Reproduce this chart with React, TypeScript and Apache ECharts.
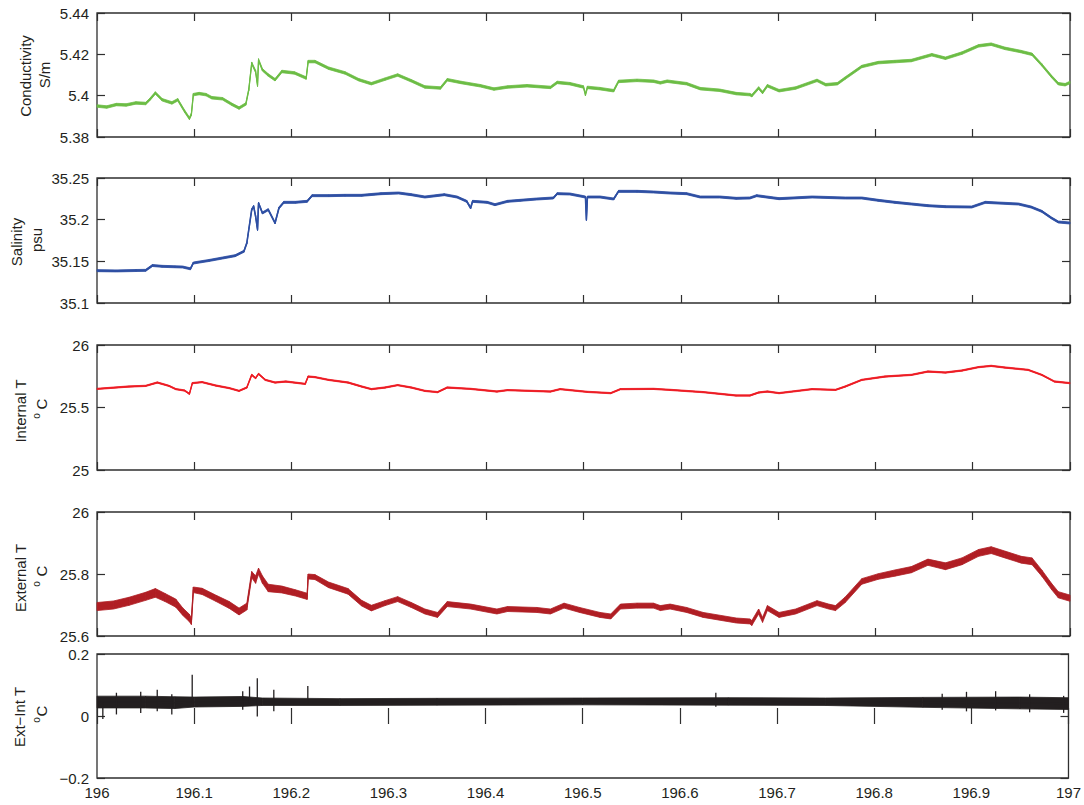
import React, { useEffect, useRef } from 'react';
import * as echarts from 'echarts';

// ---------- Conductivity (S/m) ----------
const COND_T = [
  196.000, 196.010, 196.020, 196.030, 196.040, 196.050, 196.054, 196.060, 196.067, 196.077,
  196.083, 196.090, 196.095, 196.097, 196.099, 196.105, 196.112, 196.118, 196.129, 196.139,
  196.146, 196.153, 196.156, 196.159, 196.163, 196.165, 196.166, 196.170, 196.176, 196.183,
  196.190, 196.203, 196.215, 196.217, 196.224, 196.238, 196.255, 196.269, 196.282, 196.296,
  196.309, 196.323, 196.337, 196.353, 196.360, 196.374, 196.394, 196.408, 196.422, 196.442,
  196.466, 196.473, 196.486, 196.500, 196.502, 196.504, 196.517, 196.531, 196.536, 196.555,
  196.572, 196.579, 196.586, 196.606, 196.620, 196.640, 196.657, 196.671, 196.673, 196.680,
  196.684, 196.689, 196.701, 196.718, 196.740, 196.749, 196.761, 196.769, 196.786, 196.803,
  196.820, 196.837, 196.858, 196.872, 196.889, 196.906, 196.919, 196.933, 196.950, 196.961,
  196.971, 196.981, 196.988, 196.995, 197.000,
];
const COND_V = [
  5.3950, 5.3945, 5.3957, 5.3955, 5.3965, 5.3962, 5.3980, 5.4013, 5.3980, 5.3965,
  5.3980, 5.3925, 5.3890, 5.3910, 5.4005, 5.4010, 5.4005, 5.3990, 5.3985, 5.3957,
  5.3940, 5.3960, 5.4029, 5.4157, 5.4117, 5.4050, 5.4173, 5.4125, 5.4100, 5.4077,
  5.4117, 5.4110, 5.4085, 5.4165, 5.4165, 5.4133, 5.4110, 5.4077, 5.4058, 5.4080,
  5.4100, 5.4072, 5.4042, 5.4037, 5.4077, 5.4064, 5.4048, 5.4032, 5.4042, 5.4048,
  5.4040, 5.4064, 5.4058, 5.4042, 5.4005, 5.4040, 5.4034, 5.4024, 5.4069, 5.4074,
  5.4070, 5.4062, 5.4070, 5.4058, 5.4034, 5.4026, 5.4010, 5.4005, 5.4000, 5.4037,
  5.4015, 5.4048, 5.4024, 5.4037, 5.4074, 5.4053, 5.4058, 5.4085, 5.4141, 5.4160,
  5.4165, 5.4170, 5.4198, 5.4181, 5.4206, 5.4241, 5.4249, 5.4229, 5.4213, 5.4200,
  5.4149, 5.4093, 5.4058, 5.4053, 5.4064,
];
const COND_NOISE = 0.0006;

// ---------- Salinity (psu) ----------
const SAL_T = [
  196.000, 196.020, 196.040, 196.050, 196.057, 196.067, 196.080, 196.088, 196.096, 196.099,
  196.115, 196.129, 196.142, 196.151, 196.154, 196.159, 196.161, 196.163, 196.165, 196.166,
  196.170, 196.176, 196.183, 196.187, 196.192, 196.204, 196.216, 196.221, 196.238, 196.255,
  196.272, 196.292, 196.310, 196.323, 196.337, 196.357, 196.370, 196.380, 196.384, 196.386,
  196.401, 196.409, 196.422, 196.435, 196.452, 196.469, 196.473, 196.486, 196.502, 196.503,
  196.504, 196.517, 196.531, 196.536, 196.555, 196.572, 196.589, 196.606, 196.620, 196.640,
  196.657, 196.671, 196.678, 196.701, 196.735, 196.769, 196.786, 196.803, 196.820, 196.837,
  196.854, 196.872, 196.899, 196.913, 196.926, 196.947, 196.960, 196.971, 196.981, 196.988,
  197.000,
];
const SAL_V = [
  35.1388, 35.1385, 35.1390, 35.1392, 35.1450, 35.1440, 35.1435, 35.1432, 35.1410, 35.1480,
  35.1510, 35.1540, 35.1568, 35.1620, 35.1720, 35.2120, 35.2160, 35.2040, 35.1880, 35.2200,
  35.2080, 35.2120, 35.1960, 35.2140, 35.2208, 35.2208, 35.2220, 35.2288, 35.2288, 35.2292,
  35.2292, 35.2312, 35.2320, 35.2300, 35.2272, 35.2300, 35.2272, 35.2220, 35.2140, 35.2220,
  35.2208, 35.2180, 35.2220, 35.2232, 35.2248, 35.2260, 35.2312, 35.2308, 35.2272, 35.2000,
  35.2272, 35.2272, 35.2248, 35.2340, 35.2340, 35.2332, 35.2320, 35.2312, 35.2272, 35.2272,
  35.2256, 35.2260, 35.2288, 35.2252, 35.2272, 35.2260, 35.2260, 35.2232, 35.2208, 35.2188,
  35.2168, 35.2156, 35.2152, 35.2208, 35.2200, 35.2188, 35.2152, 35.2100, 35.2020, 35.1972,
  35.1960,
];
const SAL_NOISE = 0.0012;

// ---------- Internal T (°C) ----------
const INT_T = [
  196.000, 196.033, 196.050, 196.062, 196.074, 196.081, 196.090, 196.095, 196.098, 196.108,
  196.122, 196.136, 196.146, 196.154, 196.159, 196.163, 196.166, 196.173, 196.183, 196.194,
  196.214, 196.217, 196.224, 196.238, 196.258, 196.272, 196.282, 196.296, 196.309, 196.323,
  196.337, 196.350, 196.360, 196.384, 196.411, 196.422, 196.466, 196.476, 196.504, 196.528,
  196.538, 196.572, 196.589, 196.623, 196.657, 196.671, 196.680, 196.689, 196.701, 196.735,
  196.759, 196.769, 196.786, 196.810, 196.837, 196.854, 196.872, 196.889, 196.906, 196.919,
  196.933, 196.957, 196.971, 196.984, 197.000,
];
const INT_V = [
  25.649, 25.668, 25.673, 25.700, 25.673, 25.647, 25.636, 25.609, 25.695, 25.703,
  25.676, 25.655, 25.633, 25.660, 25.761, 25.735, 25.769, 25.721, 25.700, 25.708,
  25.689, 25.748, 25.743, 25.721, 25.700, 25.668, 25.647, 25.660, 25.679, 25.660,
  25.633, 25.623, 25.660, 25.649, 25.628, 25.639, 25.628, 25.647, 25.625, 25.615,
  25.647, 25.649, 25.641, 25.623, 25.596, 25.596, 25.620, 25.628, 25.615, 25.647,
  25.641, 25.668, 25.721, 25.748, 25.761, 25.788, 25.780, 25.796, 25.823, 25.833,
  25.820, 25.801, 25.761, 25.708, 25.695,
];
const INT_NOISE = 0.005;

// ---------- External T (°C): centre and noise half-width ----------
const EXT_T = [
  196.000, 196.017, 196.033, 196.050, 196.060, 196.070, 196.081, 196.088, 196.095, 196.097,
  196.099, 196.108, 196.122, 196.136, 196.146, 196.154, 196.159, 196.163, 196.166, 196.170,
  196.176, 196.190, 196.204, 196.216, 196.217, 196.224, 196.238, 196.258, 196.272, 196.282,
  196.296, 196.309, 196.323, 196.337, 196.350, 196.360, 196.384, 196.411, 196.422, 196.452,
  196.466, 196.480, 196.496, 196.517, 196.528, 196.538, 196.555, 196.572, 196.579, 196.589,
  196.606, 196.623, 196.657, 196.671, 196.673, 196.680, 196.684, 196.689, 196.701, 196.718,
  196.740, 196.752, 196.759, 196.769, 196.786, 196.803, 196.820, 196.837, 196.854, 196.872,
  196.889, 196.906, 196.919, 196.933, 196.950, 196.961, 196.971, 196.981, 196.988, 197.000,
];
const EXT_V = [
  25.695, 25.700, 25.712, 25.728, 25.739, 25.724, 25.706, 25.679, 25.658, 25.647,
  25.749, 25.744, 25.722, 25.700, 25.679, 25.695, 25.798, 25.782, 25.809, 25.782,
  25.755, 25.750, 25.739, 25.728, 25.792, 25.790, 25.765, 25.744, 25.706, 25.690,
  25.706, 25.719, 25.700, 25.679, 25.668, 25.703, 25.695, 25.679, 25.687, 25.684,
  25.679, 25.698, 25.684, 25.668, 25.663, 25.695, 25.698, 25.698, 25.690, 25.695,
  25.684, 25.668, 25.650, 25.647, 25.642, 25.679, 25.652, 25.690, 25.668, 25.679,
  25.706, 25.695, 25.690, 25.717, 25.776, 25.792, 25.803, 25.814, 25.838, 25.825,
  25.841, 25.868, 25.877, 25.863, 25.846, 25.841, 25.803, 25.760, 25.733, 25.722,
];
const EXT_HW = [
  0.013, 0.013, 0.013, 0.013, 0.014, 0.013, 0.013, 0.012, 0.012, 0.010,
  0.009, 0.010, 0.010, 0.011, 0.011, 0.011, 0.010, 0.012, 0.010, 0.012,
  0.012, 0.011, 0.010, 0.010, 0.008, 0.008, 0.009, 0.009, 0.009, 0.009,
  0.008, 0.008, 0.008, 0.008, 0.008, 0.008, 0.008, 0.008, 0.008, 0.008,
  0.008, 0.008, 0.008, 0.008, 0.008, 0.008, 0.008, 0.008, 0.008, 0.008,
  0.008, 0.008, 0.008, 0.008, 0.008, 0.008, 0.008, 0.008, 0.008, 0.008,
  0.008, 0.008, 0.008, 0.009, 0.009, 0.009, 0.010, 0.010, 0.010, 0.011,
  0.011, 0.011, 0.011, 0.011, 0.011, 0.011, 0.010, 0.010, 0.010, 0.010,
];

// ---------- Ext - Int T (°C): centre, noise half-width, spikes ----------
const EI_T = [196.000, 196.050, 196.080, 196.100, 196.150, 196.170, 196.250, 196.350, 196.500, 196.650, 196.750, 196.850, 196.950, 197.000];
const EI_V = [0.045, 0.045, 0.043, 0.045, 0.047, 0.046, 0.045, 0.046, 0.047, 0.047, 0.046, 0.044, 0.042, 0.040];
const EI_HW = [0.019, 0.019, 0.019, 0.016, 0.016, 0.012, 0.011, 0.011, 0.011, 0.012, 0.012, 0.016, 0.019, 0.019];
const EI_SPIKE_T = [196.006, 196.020, 196.045, 196.062, 196.077, 196.098, 196.150, 196.157, 196.165, 196.182, 196.217, 196.637, 196.870, 196.895, 196.925, 196.960, 196.995];
const EI_SPIKE_LO = [-0.010, 0.005, 0.010, 0.015, 0.005, 0.040, 0.020, 0.040, -0.002, 0.015, 0.040, 0.030, 0.020, 0.015, 0.018, 0.012, 0.010];
const EI_SPIKE_HI = [0.045, 0.075, 0.078, 0.085, 0.070, 0.133, 0.080, 0.095, 0.122, 0.085, 0.097, 0.075, 0.072, 0.078, 0.080, 0.070, 0.065];

// ---------- Axes ----------
const X_MIN = 196;
const X_MAX = 197;
const X_STEP = 0.1;
const Y_RANGES = [
  { min: 5.38, max: 5.44, interval: 0.02 },
  { min: 35.1, max: 35.25, interval: 0.05 },
  { min: 25, max: 26, interval: 0.5 },
  { min: 25.6, max: 26, interval: 0.2 },
  { min: -0.2, max: 0.2, interval: 0.2 },
];

const COLORS = ['#6cbd45', '#2e4fa3', '#ed1c24', '#b01e24', '#231f20'];
const FONT = "'Liberation Sans', Arial, Helvetica, sans-serif";
const INK = '#231f20';
const AXIS = '#2f2f2f';

const TOPS = [13, 178, 345, 512, 654];
const HEIGHTS = [124, 125, 125, 124, 124];
const LEFT = 97;
const RIGHT = 14;

function pairs(t: number[], v: number[]) {
  return t.map((x, i) => [x, v[i]]);
}

function buildOption() {
  const tickStyle = { inside: true, length: 8, lineStyle: { color: AXIS, width: 1.2 } };
  const grid = TOPS.map((top, i) => ({
    left: LEFT,
    right: RIGHT,
    top,
    height: HEIGHTS[i],
    show: true,
    borderColor: AXIS,
    borderWidth: 1.3,
    backgroundColor: 'transparent',
  }));

  const xAxis: any[] = [];
  const yAxis: any[] = [];
  TOPS.forEach((_, i) => {
    const baseX = {
      type: 'value',
      gridIndex: i,
      min: X_MIN,
      max: X_MAX,
      interval: X_STEP,
      axisLine: { show: false },
      axisTick: tickStyle,
      splitLine: { show: false },
    };
    xAxis.push({
      ...baseX,
      position: 'bottom',
      axisLabel: {
        show: i === 4,
        fontSize: 15,
        fontFamily: FONT,
        color: INK,
        margin: 7,
        showMinLabel: true,
        showMaxLabel: true,
      },
    });
    xAxis.push({ ...baseX, position: 'top', axisLabel: { show: false } });

    const r = Y_RANGES[i];
    const baseY = {
      type: 'value',
      gridIndex: i,
      min: r.min,
      max: r.max,
      interval: r.interval,
      axisLine: { show: false },
      axisTick: tickStyle,
      splitLine: { show: false },
    };
    yAxis.push({
      ...baseY,
      position: 'left',
      axisLabel: {
        fontSize: 15,
        fontFamily: FONT,
        color: INK,
        margin: 8,
        showMinLabel: true,
        showMaxLabel: true,
        formatter: (v: number) => {
          const s = String(Math.round(v * 10000) / 10000);
          return s.startsWith('-') ? '\u2212' + s.slice(1) : s;
        },
      },
    });
    yAxis.push({ ...baseY, position: 'right', axisLabel: { show: false } });
  });

  const line = (idx: number, data: any[], color: string, width: number) => ({
    type: 'line',
    xAxisIndex: idx * 2,
    yAxisIndex: idx * 2,
    data,
    symbol: 'none',
    showSymbol: false,
    lineStyle: { color, width },
    silent: true,
    z: 3,
  });

  // noise envelope: quads between consecutive samples, placed with the axis scales
  const band = (idx: number, t: number[], lo: number[], hi: number[], color: string) => ({
    type: 'custom',
    xAxisIndex: idx * 2,
    yAxisIndex: idx * 2,
    silent: true,
    z: 2,
    data: t.map((x, i) => [x, lo[i], hi[i]]),
    encode: { x: 0, y: [1, 2] },
    renderItem: (params: any, api: any) => {
      const i = params.dataIndexInside;
      if (i === 0) return null;
      const a1 = api.coord([api.value(0, i - 1), api.value(1, i - 1)]);
      const a2 = api.coord([api.value(0, i - 1), api.value(2, i - 1)]);
      const b1 = api.coord([api.value(0, i), api.value(1, i)]);
      const b2 = api.coord([api.value(0, i), api.value(2, i)]);
      return {
        type: 'polygon',
        shape: { points: [a1, b1, b2, a2] },
        style: { fill: color, stroke: color, lineWidth: 0.8 },
      };
    },
  });

  const withNoise = (idx: number, t: number[], v: number[], hw: (i: number) => number, color: string, w: number) => [
    band(idx, t, v.map((y, i) => y - hw(i)), v.map((y, i) => y + hw(i)), color),
    line(idx, pairs(t, v), color, w),
  ];

  const series: any[] = [
    ...withNoise(0, COND_T, COND_V, () => COND_NOISE, COLORS[0], 1.2),
    ...withNoise(1, SAL_T, SAL_V, () => SAL_NOISE, COLORS[1], 1.6),
    ...withNoise(2, INT_T, INT_V, () => INT_NOISE, COLORS[2], 1.4),
    ...withNoise(3, EXT_T, EXT_V, (i) => EXT_HW[i], COLORS[3], 1.2),
    ...withNoise(4, EI_T, EI_V, (i) => EI_HW[i], COLORS[4], 1.2),
    {
      type: 'custom',
      xAxisIndex: 8,
      yAxisIndex: 8,
      silent: true,
      z: 4,
      data: EI_SPIKE_T.map((t, i) => [t, EI_SPIKE_LO[i], EI_SPIKE_HI[i]]),
      encode: { x: 0, y: [1, 2] },
      renderItem: (_p: any, api: any) => {
        const a = api.coord([api.value(0), api.value(1)]);
        const b = api.coord([api.value(0), api.value(2)]);
        return {
          type: 'line',
          shape: { x1: a[0], y1: a[1], x2: b[0], y2: b[1] },
          style: { stroke: COLORS[4], lineWidth: 1.3 },
        };
      },
    },
  ];

  const txt = (text: string, x: number, y: number, size = 15) => ({
    type: 'text',
    x,
    y,
    rotation: Math.PI / 2,
    silent: true,
    style: {
      text,
      fontSize: size,
      fontFamily: FONT,
      fill: INK,
      align: 'center',
      verticalAlign: 'middle',
    },
  });

  const graphic = [
    txt('Conductivity', 25, 76),
    txt('S/m', 44, 75),
    txt('Salinity', 16, 242),
    txt('psu', 36, 240),
    txt('Internal T', 20, 411),
    txt('o', 36, 416, 10),
    txt('C', 41, 404),
    txt('External T', 20, 578),
    txt('o', 36, 584, 10),
    txt('C', 41, 571),
    txt('Ext\u2212Int T', 19, 717),
    txt('o', 36, 720, 10),
    txt('C', 41, 711),
  ];

  return {
    animation: false,
    backgroundColor: '#ffffff',
    grid,
    xAxis,
    yAxis,
    series,
    graphic,
  };
}

export default function App() {
  const ref = useRef<HTMLDivElement>(null);
  useEffect(() => {
    if (!ref.current) return;
    const chart = echarts.init(ref.current, null, { renderer: 'svg' });
    chart.setOption(buildOption() as any);
    return () => chart.dispose();
  }, []);
  return (
    <div
      ref={ref}
      style={{ position: 'absolute', left: 0, top: 0, width: 1084, height: 805 }}
    />
  );
}
